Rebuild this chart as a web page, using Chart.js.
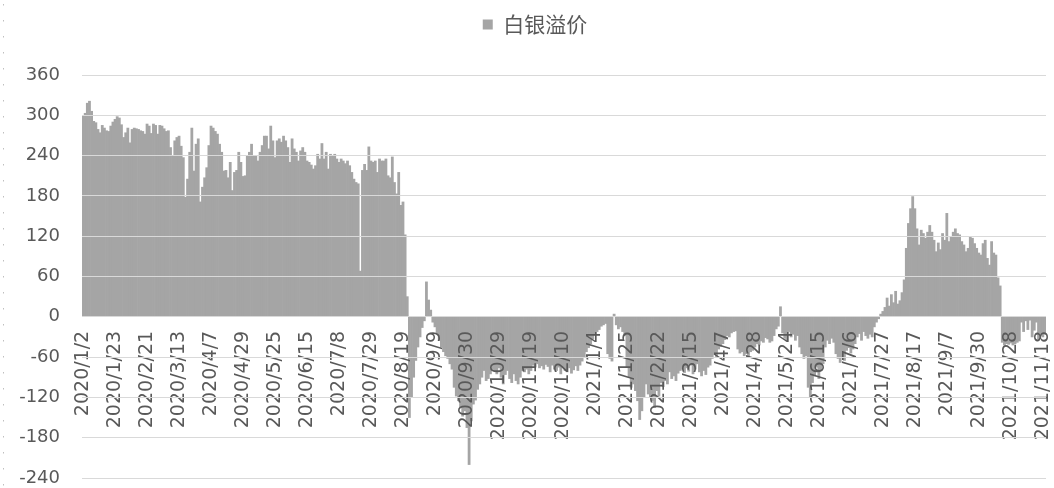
<!DOCTYPE html>
<html>
<head>
<meta charset="utf-8">
<script src="https://cdn.jsdelivr.net/npm/chart.js@4.4.1/dist/chart.umd.min.js"></script>
<style>
  html, body { margin: 0; padding: 0; background: #fff; }
  .chart-box { width: 1054px; height: 488px; position: relative; }
</style>
</head>
<body>
<div class="chart-box"><canvas id="premiumChart"></canvas></div>
<script>
// days with no quote (exchange holidays + a few days missing from the source)
var closedDays = [
  "2020-01-01", "2020-01-24", "2020-01-27", "2020-01-28", "2020-01-29", "2020-01-30", "2020-01-31",
  "2020-04-03", "2020-04-06", "2020-04-10", "2020-05-01", "2020-05-04", "2020-05-05",
  "2020-06-25", "2020-06-26", "2020-10-01", "2020-10-02", "2020-10-05", "2020-10-06",
  "2020-10-07", "2020-10-08", "2020-12-25",
  "2021-01-01", "2021-02-11", "2021-02-12", "2021-02-15", "2021-02-16", "2021-02-17",
  "2021-04-02", "2021-04-05", "2021-05-03", "2021-05-04", "2021-05-05", "2021-06-14",
  "2021-09-20", "2021-09-21", "2021-10-01", "2021-10-04", "2021-10-05", "2021-10-06", "2021-10-07"
];

// dates printed under the axis
var tickLabels = [
  "2020/1/2", "2020/1/23", "2020/2/21", "2020/3/13", "2020/4/7", "2020/4/29", "2020/5/25",
  "2020/6/15", "2020/7/8", "2020/7/29", "2020/8/19", "2020/9/9", "2020/9/30", "2020/10/29",
  "2020/11/19", "2020/12/10", "2021/1/4", "2021/1/25", "2021/2/22", "2021/3/15", "2021/4/7",
  "2021/4/28", "2021/5/24", "2021/6/15", "2021/7/6", "2021/7/27", "2021/8/17", "2021/9/7",
  "2021/9/30", "2021/10/28", "2021/11/18"
];

// 白银溢价, one value per trading day
var premium2020 = [
  300, 303, 318, 321, 306, 291, 289, 279, 274, 285,
  281, 277, 276, 284, 290, 294, 298, 296, 286, 267,
  274, 281, 259, 279, 281, 280, 279, 277, 276, 272,
  287, 284, 273, 287, 285, 272, 285, 284, 280, 276,
  277, 252, 240, 262, 267, 269, 254, 237, 178, 205,
  245, 281, 217, 257, 265, 171, 193, 207, 222, 255,
  284, 281, 276, 272, 257, 245, 217, 218, 207, 230,
  188, 215, 218, 245, 230, 209, 210, 240, 245, 257,
  240, 240, 232, 245, 255, 269, 269, 250, 284, 262,
  237, 262, 265, 260, 269, 262, 252, 230, 265, 250,
  245, 232, 247, 252, 245, 232, 230, 226, 220, 225,
  242, 235, 258, 235, 245, 220, 242, 240, 242, 235,
  230, 235, 232, 228, 232, 225, 215, 205, 200, 198,
  68, 218, 227, 218, 253, 232, 230, 232, 215, 235,
  232, 232, 235, 210, 207, 238, 200, 183, 215, 166,
  171, 122, 30, -150, -120, -90, -65, -45, -30, -16,
  -6, 52, 25, 10, -8, -15, -25, -35, -45, -52,
  -58, -62, -70, -78, -105, -118, -125, -135, -148, -140,
  -165, -220, -155, -130, -124, -108, -100, -90, -80, -95,
  -92, -85, -78, -80, -85, -76, -90, -100, -86, -80,
  -92, -98, -85, -95, -100, -90, -80, -82, -78, -85,
  -80, -72, -75, -70, -76, -73, -78, -71, -74, -82,
  -72, -78, -80, -75, -85, -75, -80, -82, -76, -84,
  -79, -73, -80, -72, -66, -60, -52, -46, -40, -33
];

var premium2021 = [
  -27, -22, -19, -14, -12, -10, -55, -62, -66, 4,
  -12, -18, -15, -22, -28, -75, -90, -105, -100, -110,
  -125, -153, -140, -120, -100, -115, -120, -125, -135, -110,
  -118, -98, -104, -95, -100, -82, -92, -88, -95, -84,
  -80, -78, -83, -76, -81, -72, -85, -78, -70, -82,
  -88, -80, -86, -75, -72, -62, -56, -60, -48, -44,
  -40, -34, -28, -30, -24, -22, -21, -48, -54, -52,
  -58, -55, -60, -52, -50, -45, -40, -42, -36, -38,
  -31, -33, -38, -36, -28, -18, -14, 15, -24, -32,
  -36, -22, -30, -26, -35, -28, -45, -55, -62, -58,
  -105, -120, -98, -88, -75, -92, -80, -70, -45, -35,
  -40, -32, -38, -55, -62, -68, -60, -65, -50, -46,
  -54, -48, -40, -30, -25, -35, -22, -28, -32, -26,
  -30, -15, -8, -3, 4, 8, 14, 28, 16, 33,
  21, 38, 19, 24, 36, 55, 102, 139, 161, 179,
  161, 131, 107, 129, 124, 117, 126, 136, 126, 114,
  97, 110, 100, 124, 114, 154, 112, 119, 126, 131,
  124, 122, 112, 107, 97, 102, 119, 117, 109, 102,
  95, 92, 109, 114, 87, 77, 112, 95, 92, 58,
  46, -38, -42, -40, -41, -39, -42, -40, -38, -36,
  -8, -22, -6, -19, -5, -30, -20, -8, -33, -28,
  -30, -26
];

var premium = premium2020.concat(premium2021);

// one category per trading day, starting 2020/1/2
var dates = [];
var day = new Date(Date.UTC(2020, 0, 2));
while (dates.length < premium.length) {
  var wd = day.getUTCDay();
  if (wd !== 0 && wd !== 6 && closedDays.indexOf(day.toISOString().slice(0, 10)) < 0) {
    dates.push(day.getUTCFullYear() + "/" + (day.getUTCMonth() + 1) + "/" + day.getUTCDate());
  }
  day.setUTCDate(day.getUTCDate() + 1);
}

// legend: taller box so the plot starts lower, and nudged a bit right
var legendMargin = {
  id: "legendMargin",
  beforeInit: function (chart) {
    var fit = chart.legend.fit;
    chart.legend.fit = function () {
      fit.bind(chart.legend)();
      this.height = 71;
    };
  },
  afterLayout: function (chart) {
    chart.legend.left += 12;
    chart.legend.right += 12;
  },
};

// dotted frame on the left edge
var leftDots = {
  id: "leftDots",
  afterDraw: function (chart) {
    var c = chart.ctx;
    c.save();
    c.strokeStyle = "#bfbfbf";
    c.lineWidth = 1;
    c.setLineDash([1.5, 14.5]);
    c.beginPath();
    c.moveTo(3.5, 4);
    c.lineTo(3.5, chart.height);
    c.stroke();
    c.restore();
  },
};

//chart
var ctx = document.getElementById("premiumChart");

var PremiumChart = new Chart(ctx, {
  type: "bar",
  data: {
    labels: dates,
    datasets: [
      {
        label: "白银溢价",
        data: premium,
        backgroundColor: "#a5a5a5",
        borderWidth: 0,
        barPercentage: 1,
        categoryPercentage: 1,
      },
    ],
  },
  options: {
    responsive: true,
    maintainAspectRatio: false,
    animation: false,
    layout: {
      padding: { left: 0, right: 8, top: 4, bottom: 10 },
    },
    plugins: {
      legend: {
        labels: {
          color: "#595959",
          boxWidth: 10,
          boxHeight: 10,
          font: { family: "'Noto Sans CJK SC'", size: 21 },
        },
      },
      tooltip: { enabled: false },
    },
    scales: {
      x: {
        position: { y: 0 },
        afterFit: function (scale) {
          scale.paddingLeft = 0;
          scale.paddingRight = 0;
        },
        grid: { display: false, drawTicks: false },
        border: { display: false },
        ticks: {
          autoSkip: false,
          minRotation: 90,
          maxRotation: 90,
          padding: 14,
          color: "#595959",
          z: 1,
          font: { family: "'DejaVu Sans'", size: 19 },
          callback: function (value) {
            var label = this.getLabelForValue(value);
            return tickLabels.indexOf(label) >= 0 ? label : "";
          },
        },
      },
      y: {
        min: -240,
        max: 360,
        afterFit: function (scale) {
          scale.width = 82;
          scale.paddingTop = 0;
          scale.paddingBottom = 0;
        },
        grid: { color: "#d9d9d9", drawTicks: false, z: 1 },
        border: { display: false },
        ticks: {
          stepSize: 60,
          padding: 22,
          color: "#595959",
          font: { family: "'DejaVu Sans'", size: 18 },
        },
      },
    },
  },
  plugins: [legendMargin, leftDots],
});
</script>
</body>
</html>
